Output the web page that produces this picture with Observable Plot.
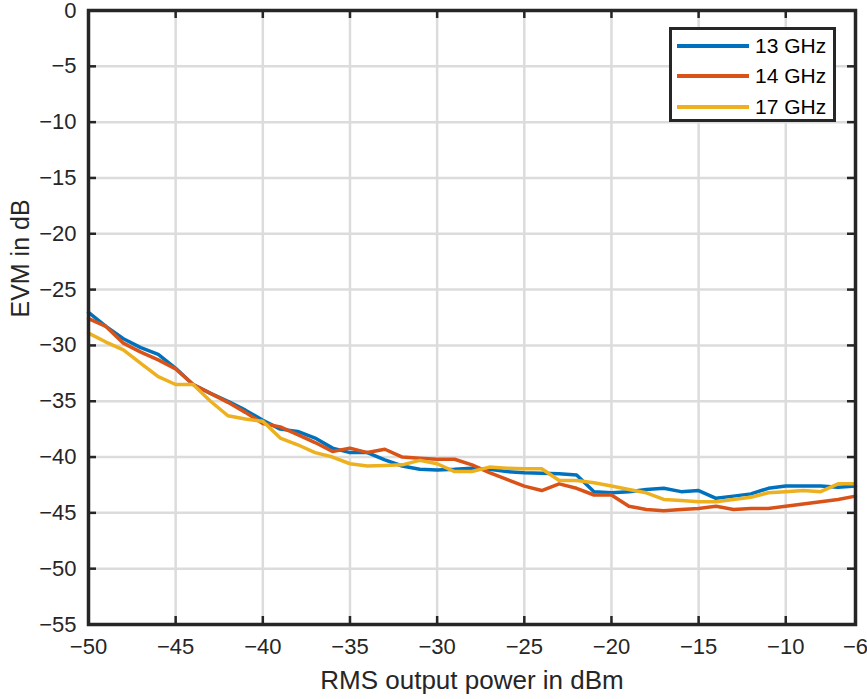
<!DOCTYPE html>
<html><head><meta charset="utf-8">
<script src="https://cdn.jsdelivr.net/npm/d3@7"></script>
<script src="https://cdn.jsdelivr.net/npm/@observablehq/plot@0.6"></script>
<style>
body{margin:0;background:#fff;}
#wrap{position:relative;width:867px;height:699px;font-family:"Liberation Sans",Arial,sans-serif;color:#262626;}
#wrap svg{display:block;}
#legend{position:absolute;left:669px;top:27px;width:161px;height:89px;border:3px solid #262626;background:#fff;}
.lrow{position:absolute;left:0;height:30px;width:161px;}
.lsw{position:absolute;left:5px;width:72px;top:13px;height:4px;}
.ltx{position:absolute;left:83px;top:2px;font-size:21px;line-height:26px;color:#000;white-space:nowrap;}
</style></head><body><div id="wrap"></div>
<script>
const power = [-50,-49,-48,-47,-46,-45,-44,-43,-42,-41,-40,-39,-38,-37,-36,-35,-34,-33,-32,-31,-30,-29,-28,-27,-26,-25,-24,-23,-22,-21,-20,-19,-18,-17,-16,-15,-14,-13,-12,-11,-10,-9,-8,-7,-6];
const evm13 = [-27.05,-28.3,-29.4,-30.2,-30.8,-32.05,-33.5,-34.3,-35.0,-35.8,-36.7,-37.5,-37.7,-38.3,-39.2,-39.6,-39.6,-40.25,-40.8,-41.1,-41.15,-41.1,-41.0,-41.1,-41.3,-41.4,-41.45,-41.5,-41.6,-43.1,-43.2,-43.1,-42.9,-42.8,-43.1,-43.0,-43.7,-43.5,-43.3,-42.8,-42.6,-42.6,-42.6,-42.7,-42.6];
const evm14 = [-27.6,-28.3,-29.8,-30.6,-31.3,-32.1,-33.5,-34.3,-35.1,-36.0,-37.0,-37.3,-38.0,-38.7,-39.5,-39.2,-39.6,-39.3,-40.0,-40.1,-40.2,-40.2,-40.7,-41.4,-42.0,-42.6,-43.0,-42.4,-42.8,-43.4,-43.4,-44.4,-44.7,-44.8,-44.7,-44.6,-44.4,-44.7,-44.6,-44.6,-44.4,-44.2,-44.0,-43.8,-43.5];
const evm17 = [-28.9,-29.7,-30.4,-31.6,-32.8,-33.5,-33.5,-35.0,-36.3,-36.6,-36.8,-38.3,-38.9,-39.6,-40.0,-40.6,-40.8,-40.75,-40.7,-40.3,-40.6,-41.3,-41.3,-40.9,-41.0,-41.05,-41.05,-42.1,-42.1,-42.3,-42.6,-42.9,-43.2,-43.8,-43.9,-44.0,-44.0,-43.8,-43.6,-43.2,-43.1,-43.0,-43.1,-42.4,-42.4];
const seriesNames = ["13 GHz","14 GHz","17 GHz"];
const seriesColors = ["#0072BD","#D95319","#EDB120"];
const xTicks = [-50,-45,-40,-35,-30,-25,-20,-15,-10,-6];
const yTicks = [0,-5,-10,-15,-20,-25,-30,-35,-40,-45,-50,-55];
const xLabel = "RMS output power in dBm";
const yLabel = "EVM in dB";

const seriesValues = [evm13, evm14, evm17];
const rows = [];
seriesValues.forEach((vals, s) => vals.forEach((v, i) => rows.push({power: power[i], evm: v, series: seriesNames[s]})));

const W = 867, H = 699, mL = 88, mR = 12, mT = 10, mB = 75;
const plotW = W - mL - mR, plotH = H - mT - mB, tk = 8;
const xDom = [power[0], power[power.length - 1]];
const yDom = [yTicks[yTicks.length - 1], yTicks[0]];
const innerX = xTicks.filter(d => d > xDom[0] && d < xDom[1]);
const innerY = yTicks.filter(d => d > yDom[0] && d < yDom[1]);
const font = "'Liberation Sans', Arial, sans-serif";

const chart = Plot.plot({
  width: W, height: H, marginLeft: mL, marginRight: mR, marginTop: mT, marginBottom: mB,
  style: {fontFamily: font, fontSize: "22px", color: "#262626", background: "#fff", overflow: "visible"},
  x: {domain: xDom},
  y: {domain: yDom},
  color: {domain: seriesNames, range: seriesColors},
  marks: [
    Plot.ruleX(innerX, {x: d => d, stroke: "#dcdcdc", strokeWidth: 2.5}),
    Plot.ruleY(innerY, {y: d => d, stroke: "#dcdcdc", strokeWidth: 2.5}),
    Plot.line(rows, {x: "power", y: "evm", z: "series", stroke: "series", strokeWidth: 3.5, strokeLinejoin: "round"}),
    Plot.ruleX(xTicks, {x: d => d, insetTop: plotH - tk, stroke: "#262626", strokeWidth: 2.5}),
    Plot.ruleX(xTicks, {x: d => d, insetBottom: plotH - tk, stroke: "#262626", strokeWidth: 2.5}),
    Plot.ruleY(yTicks, {y: d => d, insetRight: plotW - tk, stroke: "#262626", strokeWidth: 2.5}),
    Plot.ruleY(yTicks, {y: d => d, insetLeft: plotW - tk, stroke: "#262626", strokeWidth: 2.5}),
    Plot.frame({stroke: "#262626", strokeWidth: 3.5}),
    Plot.axisX(xTicks, {tickSize: 0, tickPadding: 14, fontSize: 22, label: null, fill: "#262626"}),
    Plot.axisY(yTicks, {tickSize: 0, tickPadding: 12, fontSize: 22, label: null, fill: "#262626"}),
    Plot.text([xLabel], {frameAnchor: "bottom", dy: 64, fontSize: 26, fill: "#262626"}),
    Plot.text([yLabel], {frameAnchor: "left", dx: -68, rotate: -90, fontSize: 25, fill: "#262626"})
  ]
});
const wrap = document.getElementById("wrap");
wrap.appendChild(chart);

const legend = document.createElement("div");
legend.id = "legend";
seriesNames.forEach((name, i) => {
  const row = document.createElement("div");
  row.className = "lrow";
  row.style.top = (1 + i * 30.3) + "px";
  const sw = document.createElement("div");
  sw.className = "lsw";
  sw.style.background = seriesColors[i];
  const tx = document.createElement("div");
  tx.className = "ltx";
  tx.textContent = name;
  row.appendChild(sw); row.appendChild(tx);
  legend.appendChild(row);
});
wrap.appendChild(legend);
</script>
</body></html>
